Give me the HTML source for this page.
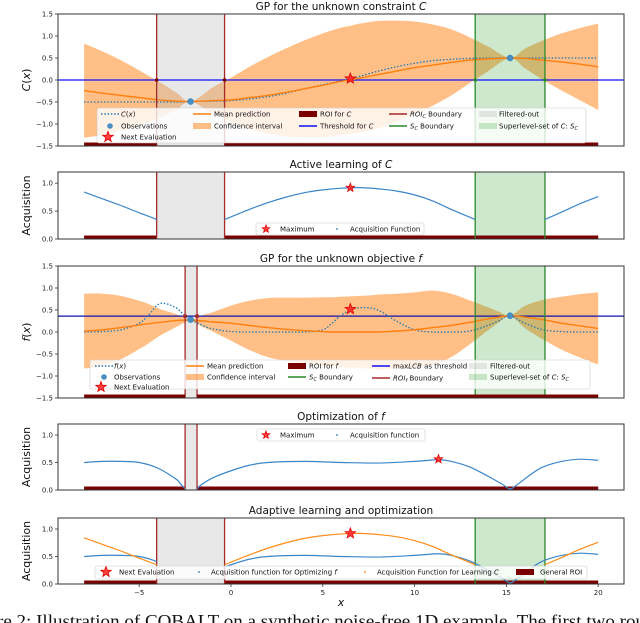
<!DOCTYPE html>
<html><head><meta charset="utf-8">
<style>
html,body{margin:0;padding:0;background:#fff;}
svg{display:block;font-family:"DejaVu Sans","Liberation Sans",sans-serif;}
</style></head>
<body>
<svg id="fig" width="640" height="623" viewBox="0 0 640 623" xmlns="http://www.w3.org/2000/svg"></svg>
<script>
// ---------- DATA ----------
const xDomain = [-8, 20];
const roiC = [-4.05, -0.35];
const scC = [13.3, 17.1];
const roiF = [-2.5, -1.85];
const obsX = [-2.2, 15.2];
const nextEvalX = 6.5;

// Panel 1: constraint C
const cX     = [-8,-7,-6,-5,-4,-3,-2.2,-1,0,1,2,3,4,5,6,6.5,7,8,9,10,11,12,13,14,15.2,16,17,18,19,20];
const cTrue  = [-0.5,-0.5,-0.5,-0.5,-0.5,-0.5,-0.49,-0.48,-0.47,-0.43,-0.38,-0.3,-0.2,-0.11,-0.02,0.03,0.08,0.2,0.3,0.38,0.44,0.47,0.49,0.5,0.5,0.5,0.5,0.5,0.5,0.5];
const cMean  = [-0.24,-0.3,-0.35,-0.4,-0.45,-0.48,-0.49,-0.47,-0.45,-0.4,-0.35,-0.28,-0.2,-0.12,-0.03,0.0,0.04,0.12,0.2,0.28,0.34,0.4,0.45,0.48,0.5,0.49,0.45,0.41,0.36,0.3];
const cSigma = [1.07,0.95,0.8,0.62,0.43,0.2,0.0,0.3,0.5,0.7,0.87,1.0,1.1,1.18,1.22,1.23,1.24,1.22,1.15,1.05,0.92,0.75,0.52,0.28,0.0,0.22,0.45,0.65,0.82,0.98];
const cThreshold = 0.0;
const obsC = [-0.49, 0.5];
const nextEvalC = 0.03;

// Panel 2: acquisition for learning C (segments split by null)
const aCX = [-8,-7,-6,-5,-4.05,null,-0.35,1,2,3,4,5,6,7,8,9,10,11,12,13.3,null,17.1,18,19,20];
const aCY = [0.84,0.72,0.6,0.47,0.35,null,0.35,0.53,0.65,0.75,0.83,0.88,0.91,0.92,0.9,0.86,0.79,0.68,0.53,0.35,null,0.35,0.48,0.63,0.76];
const maxC = 0.92;

// Panel 3: objective f
const fX     = [-8,-7,-6,-5,-4.5,-3.85,-3,-2.5,-2.2,-1.5,-1,0,1,2,3,4,5,5.5,6,6.5,7,7.5,8,8.5,9,10,11,12,13,14,14.6,15.2,16,17,18,19,20];
const fTrue  = [0,0.01,0.05,0.2,0.38,0.65,0.55,0.36,0.28,0.14,0.07,0.01,0,0,0,0,0.05,0.2,0.38,0.5,0.55,0.55,0.5,0.38,0.25,0.05,0,0,0.02,0.15,0.26,0.37,0.2,0.05,0.01,0,0];
const fMean  = [0.02,0.05,0.1,0.16,0.19,0.22,0.26,0.27,0.27,0.25,0.23,0.2,0.15,0.1,0.06,0.03,0.01,0.0,0.0,0.0,0.0,0.0,0.0,0.01,0.02,0.05,0.1,0.15,0.22,0.3,0.34,0.37,0.34,0.28,0.2,0.14,0.08];
const fSigma = [0.85,0.82,0.72,0.55,0.45,0.3,0.15,0.05,0.0,0.14,0.22,0.4,0.56,0.67,0.72,0.75,0.78,0.79,0.8,0.81,0.82,0.83,0.85,0.85,0.85,0.85,0.84,0.72,0.5,0.26,0.12,0.0,0.25,0.45,0.6,0.72,0.82];
const fThreshold = 0.36;
const obsF = [0.28, 0.37];
const nextEvalF = 0.52;

// Panel 4: acquisition for optimizing f
const aFX = [-8,-7,-6,-5,-4,-3,-2.75,-2.5,null,-1.85,-1.6,-1,0,1,2,4,6,8,10,11.3,12,13,14,14.8,15.2,15.6,16.4,17,18,19,20];
const aFY = [0.5,0.52,0.52,0.5,0.4,0.2,0.11,0.02,null,0.02,0.1,0.22,0.35,0.45,0.5,0.52,0.5,0.49,0.52,0.55,0.52,0.42,0.25,0.1,0.02,0.1,0.3,0.42,0.52,0.56,0.54];
const maxFX = 11.3, maxFY = 0.56;

// Ticks
const xTicks = [-5,0,5,10,15,20];
const yTicksGP = [-1.5,-1.0,-0.5,0.0,0.5,1.0,1.5];
const yTicksAcq = [0.0,0.5,1.0];

// ---------- DRAWING ----------
const NS = "http://www.w3.org/2000/svg";
const svg = document.getElementById('fig');
const L = 58, R = 624;
function X(v){ return 231 + 18.36*v; }
function el(tag, attrs, parent){
  const e = document.createElementNS(NS, tag);
  for (const k in attrs) e.setAttribute(k, attrs[k]);
  (parent||svg).appendChild(e);
  return e;
}
function fmt(v){ return (v<0?'\u2212':'') + Math.abs(v).toFixed(1); }
function smooth(pts){
  if (pts.length<2) return '';
  let d = 'M'+pts[0][0].toFixed(2)+','+pts[0][1].toFixed(2);
  for (let i=0;i<pts.length-1;i++){
    const p0=pts[Math.max(0,i-1)], p1=pts[i], p2=pts[i+1], p3=pts[Math.min(pts.length-1,i+2)];
    const c1x=p1[0]+(p2[0]-p0[0])/6, c1y=p1[1]+(p2[1]-p0[1])/6;
    const c2x=p2[0]-(p3[0]-p1[0])/6, c2y=p2[1]-(p3[1]-p1[1])/6;
    d+=' C'+c1x.toFixed(2)+','+c1y.toFixed(2)+' '+c2x.toFixed(2)+','+c2y.toFixed(2)+' '+p2[0].toFixed(2)+','+p2[1].toFixed(2);
  }
  return d;
}
function segments(xs, ys){
  const out=[]; let cur=[];
  for (let i=0;i<xs.length;i++){
    if (xs[i]===null){ if(cur.length) out.push(cur); cur=[]; }
    else cur.push([xs[i], ys[i]]);
  }
  if (cur.length) out.push(cur);
  return out;
}
function star(g, cx, cy, r, name){
  let pts=[];
  for (let i=0;i<10;i++){
    const a=-Math.PI/2+i*Math.PI/5, rr=i%2?r*0.42:r;
    pts.push((cx+rr*Math.cos(a)).toFixed(2)+','+(cy+rr*Math.sin(a)).toFixed(2));
  }
  const s = el('polygon',{points:pts.join(' '),fill:'#ff2020','fill-opacity':'0.85',stroke:'#e00000','stroke-width':'0.8'},g);
  
  
  return s;
}
function panel(cfg){
  const g = el('g',{});
  
  
  const Y = v => cfg.bottom - (v-cfg.ymin)/(cfg.ymax-cfg.ymin)*(cfg.bottom-cfg.top);
  cfg.Y = Y;
  const clipId = 'clip-'+cfg.name;
  const cp = el('clipPath',{id:clipId},g);
  el('rect',{x:L,y:cfg.top,width:R-L,height:cfg.bottom-cfg.top},cp);
  const inner = el('g',{'clip-path':'url(#'+clipId+')'},g);
  const t = el('text',{x:(L+R)/2,y:cfg.top-4,'text-anchor':'middle','font-size':'10.5',fill:'#111'},g);
  
  
  t.innerHTML = cfg.title;
  cfg.g=g; cfg.inner=inner;
  return cfg;
}
function finish(cfg, yticks, ylabel, showX){
  const g=cfg.g, Y=cfg.Y;
  const sp = el('rect',{x:L,y:cfg.top,width:R-L,height:cfg.bottom-cfg.top,fill:'none',stroke:'#333','stroke-width':'1'},g);
  
  
  yticks.forEach(v=>{
    el('line',{x1:L-3,x2:L,y1:Y(v),y2:Y(v),stroke:'#333','stroke-width':'0.8'},g);
    const tl = el('text',{x:L-5,y:Y(v)+2.5,'text-anchor':'end','font-size':'7',fill:'#222'},g);
    
    
    tl.textContent = fmt(v);
  });
  if (showX){
    xTicks.forEach(v=>{
      el('line',{x1:X(v),x2:X(v),y1:cfg.bottom,y2:cfg.bottom+3,stroke:'#333','stroke-width':'0.8'},g);
      const tl = el('text',{x:X(v),y:cfg.bottom+11,'text-anchor':'middle','font-size':'7',fill:'#222'},g);
      
      
      tl.textContent = (v<0?'\u2212':'')+Math.abs(v);
    });
  }
  const cy=(cfg.top+cfg.bottom)/2;
  const yl = el('text',{x:0,y:0,transform:'translate(30,'+cy+') rotate(-90)','text-anchor':'middle','font-size':'11',fill:'#111'},g);
  
  
  yl.innerHTML = ylabel;
}
function bands(cfg, roi, sc){
  const g=cfg.inner;
  const gb = el('rect',{x:X(roi[0]),y:cfg.top,width:X(roi[1])-X(roi[0]),height:cfg.bottom-cfg.top,fill:'#bdbdbd','fill-opacity':'0.35'},g);
  
  
  if (sc){
    const gr = el('rect',{x:X(sc[0]),y:cfg.top,width:X(sc[1])-X(sc[0]),height:cfg.bottom-cfg.top,fill:'#2ca02c','fill-opacity':'0.24'},g);
    
    
  }
}
function bandLines(cfg, roi, sc){
  const g=cfg.inner;
  roi.forEach(v=>{
    const l = el('line',{x1:X(v),x2:X(v),y1:cfg.top,y2:cfg.bottom,stroke:'#a52a2a','stroke-width':'1.3'},g);
    
    
  });
  if (sc) sc.forEach(v=>{
    const l = el('line',{x1:X(v),x2:X(v),y1:cfg.top,y2:cfg.bottom,stroke:'#2a8a2a','stroke-width':'1.3'},g);
    
    
  });
}
function roiBar(cfg, roi){
  const g=cfg.inner;
  [[xDomain[0],roi[0]],[roi[1],xDomain[1]]].forEach(s=>{
    const r = el('rect',{x:X(s[0]),y:cfg.bottom-3.5,width:X(s[1])-X(s[0]),height:3.5,fill:'#7a0000'},g);
    
    
  });
}
function curve(cfg, xs, ys, color, name, dash, width, filter){
  const Y=cfg.Y;
  segments(xs, ys).forEach(seg=>{
    let pts = seg.map(p=>[X(p[0]),Y(p[1])]);
    const p = el('path',{d:smooth(pts),fill:'none',stroke:color,'stroke-width':width||1.3},cfg.inner);
    if (dash) p.setAttribute('stroke-dasharray', dash);
    if (filter) p.setAttribute('clip-path', 'url(#'+filter+')');
    
    
  });
}
function ciBand(cfg, xs, mean, sig, name){
  const Y=cfg.Y;
  const up = xs.map((x,i)=>[X(x),Y(mean[i]+sig[i])]);
  const lo = xs.map((x,i)=>[X(x),Y(mean[i]-sig[i])]).reverse();
  let d = smooth(up) + ' L' + lo[0][0]+','+lo[0][1] + smooth(lo).replace(/^M[^C]*/,'') + ' Z';
  const p = el('path',{d:d,fill:'#ff7f0e','fill-opacity':'0.5',stroke:'none'},cfg.inner);
  
  
}
function obsDots(cfg, xs, ys){
  xs.forEach((x,i)=>{
    const c = el('circle',{cx:X(x),cy:cfg.Y(ys[i]),r:3,fill:'#4a8fc4',stroke:'#1f77b4','stroke-width':'0.5'},cfg.inner);
    
    
  });
}
function hline(cfg, v, color, name){
  const l = el('line',{x1:L,x2:R,y1:cfg.Y(v),y2:cfg.Y(v),stroke:color,'stroke-width':'1.3'},cfg.inner);
  
  
}
function legendBox(x,y,w,h,name){
  const r = el('rect',{x:x,y:y,width:w,height:h,rx:2,fill:'#fff','fill-opacity':'0.8',stroke:'#ccc','stroke-width':'0.6'});
  
  
}
function legText(x,y,html){
  const t = el('text',{x:x,y:y+2.5,'font-size':'7',fill:'#111'});
  
  
  t.innerHTML = html;
}
function legLine(x,y,color,dash,w){
  const l = el('line',{x1:x-9,x2:x+9,y1:y,y2:y,stroke:color,'stroke-width':w||1.5});
  if (dash) l.setAttribute('stroke-dasharray', dash);
  
  
}
function legRect(x,y,color,op){
  const r = el('rect',{x:x-9,y:y-3,width:18,height:6,fill:color,'fill-opacity':op||1});
  
  
}
function legDot(x,y,r,color){
  const c = el('circle',{cx:x,cy:y,r:r,fill:color});
  
  
}

// ---------- PANEL 1 ----------
const p1 = panel({name:'constraint-gp-panel',top:14,bottom:146,ymin:-1.5,ymax:1.5,title:'GP for the unknown constraint <tspan font-style="italic">C</tspan>'});
ciBand(p1, cX, cMean, cSigma, 'confidence-interval-c');
bands(p1, roiC, scC);
hline(p1, cThreshold, '#1010ff', 'threshold-c');
curve(p1, cX, cTrue, '#1f77b4', 'true-c-curve', '1.5,1.8', 1.3);
curve(p1, cX, cMean, '#ff7f0e', 'mean-prediction-c', null, 1.4);
bandLines(p1, roiC, scC);
roiBar(p1, roiC);
obsDots(p1, obsX, obsC);
star(p1.inner, X(nextEvalX), p1.Y(nextEvalC), 5.5, 'next-evaluation-c');
[roiC[0],roiC[1]].forEach(v=>{ const c=el('circle',{cx:X(v),cy:p1.Y(0),r:1.8,fill:'#7a0000'},p1.inner);  });
[scC[0],scC[1]].forEach(v=>{ const c=el('circle',{cx:X(v),cy:p1.Y(0),r:1.8,fill:'#2a8a2a'},p1.inner);  });
finish(p1, yTicksGP, '<tspan font-style="italic">C</tspan>(<tspan font-style="italic">x</tspan>)', false);
legendBox(97,108,489,35,'constraint-legend');
legLine(110,114,'#1f77b4','1.5,1.8'); legText(121,114,'<tspan font-style="italic">C</tspan>(<tspan font-style="italic">x</tspan>)');
legDot(110,126,2.8,'#4a8fc4'); legText(121,126,'Observations');
star(svg,108,137,5.5,'legend-star'); legText(121,137,'Next Evaluation');
legLine(202,114,'#ff7f0e'); legText(214,114,'Mean prediction');
legRect(202,126,'#ff7f0e',0.5); legText(214,126,'Confidence interval');
legRect(308,114,'#7a0000'); legText(320,114,'ROI for <tspan font-style="italic">C</tspan>');
legLine(308,126,'#1010ff'); legText(320,126,'Threshold for <tspan font-style="italic">C</tspan>');
legLine(398,114,'#a52a2a'); legText(410,114,'<tspan font-style="italic">ROI<tspan font-size="5" dy="1.5">C</tspan></tspan><tspan dy="-1.5"> Boundary</tspan>');
legLine(398,126,'#2a8a2a'); legText(410,126,'<tspan font-style="italic">S<tspan font-size="5" dy="1.5">C</tspan></tspan><tspan dy="-1.5"> Boundary</tspan>');
legRect(488,114,'#bdbdbd',0.35); legText(499,114,'Filtered-out');
legRect(488,126,'#2ca02c',0.24); legText(499,126,'Superlevel-set of <tspan font-style="italic">C</tspan>: <tspan font-style="italic">S<tspan font-size="5" dy="1.5">C</tspan></tspan>');

// ---------- PANEL 2 ----------
const p2 = panel({name:'active-learning-panel',top:172,bottom:239,ymin:0,ymax:1.2,title:'Active learning of <tspan font-style="italic">C</tspan>'});
bands(p2, roiC, scC);
roiBar(p2, roiC);
bandLines(p2, roiC, scC);
curve(p2, aCX, aCY, '#3a86c8', 'acquisition-c-curve', null, 1.2);
star(p2.inner, X(nextEvalX), p2.Y(maxC), 4.5, 'maximum-c');
finish(p2, yTicksAcq, 'Acquisition', false);
legendBox(256,223,168,12,'active-learning-legend');
star(svg,266,229,4,'legend-star'); legText(280,229,'Maximum');
legDot(337,229,0.9,'#1f77b4'); legText(350,229,'Acquisition Function');

// ---------- PANEL 3 ----------
const p3 = panel({name:'objective-gp-panel',top:266,bottom:398,ymin:-1.5,ymax:1.5,title:'GP for the unknown objective <tspan font-style="italic">f</tspan>'});
ciBand(p3, fX, fMean, fSigma, 'confidence-interval-f');
bands(p3, roiF, scC);
hline(p3, fThreshold, '#1010aa', 'max-lcb-threshold');
curve(p3, fX, fTrue, '#1f77b4', 'true-f-curve', '1.5,1.8', 1.3);
curve(p3, fX, fMean, '#ff7f0e', 'mean-prediction-f', null, 1.4);
bandLines(p3, roiF, scC);
roiBar(p3, roiF);
obsDots(p3, obsX, obsF);
star(p3.inner, X(nextEvalX), p3.Y(nextEvalF), 5.5, 'next-evaluation-f');
roiF.forEach(v=>{ const c=el('circle',{cx:X(v),cy:p3.Y(fThreshold),r:2,fill:'#a52a2a'},p3.inner);  });
finish(p3, yTicksGP, '<tspan font-style="italic">f</tspan>(<tspan font-style="italic">x</tspan>)', false);
legendBox(90,360,500,29,'objective-legend');
legLine(104,366,'#1f77b4','1.5,1.8'); legText(114,366,'<tspan font-style="italic">f</tspan>(<tspan font-style="italic">x</tspan>)');
legDot(104,377,2.8,'#4a8fc4'); legText(114,377,'Observations');
star(svg,101,387,5.5,'legend-star'); legText(114,387,'Next Evaluation');
legLine(195,366,'#ff7f0e'); legText(207,366,'Mean prediction');
legRect(195,377,'#ff7f0e',0.5); legText(207,377,'Confidence interval');
legRect(297,366,'#7a0000'); legText(309,366,'ROI for <tspan font-style="italic">f</tspan>');
legLine(297,377,'#2a8a2a'); legText(309,377,'<tspan font-style="italic">S<tspan font-size="5" dy="1.5">C</tspan></tspan><tspan dy="-1.5"> Boundary</tspan>');
legLine(381,366,'#1010ff'); legText(393,366,'max<tspan font-style="italic">LCB</tspan> as threshold');
legLine(381,378,'#a52a2a'); legText(393,378,'<tspan font-style="italic">ROI<tspan font-size="5" dy="1.5">f</tspan></tspan><tspan dy="-1.5"> Boundary</tspan>');
legRect(478,366,'#bdbdbd',0.35); legText(490,366,'Filtered-out');
legRect(478,377,'#2ca02c',0.24); legText(490,377,'Superlevel-set of <tspan font-style="italic">C</tspan>: <tspan font-style="italic">S<tspan font-size="5" dy="1.5">C</tspan></tspan>');

// ---------- PANEL 4 ----------
const p4 = panel({name:'optimization-panel',top:424,bottom:490,ymin:0,ymax:1.2,title:'Optimization of <tspan font-style="italic">f</tspan>'});
bands(p4, roiF, null);
roiBar(p4, roiF);
bandLines(p4, roiF, null);
curve(p4, aFX, aFY, '#3a86c8', 'acquisition-f-curve', null, 1.2);
star(p4.inner, X(maxFX), p4.Y(maxFY), 4.5, 'maximum-f');
finish(p4, yTicksAcq, 'Acquisition', false);
legendBox(257,429,168,12,'optimization-legend');
star(svg,266,435,4,'legend-star'); legText(280,435,'Maximum');
legDot(337,435,0.9,'#1f77b4'); legText(350,435,'Acquisition function');

// ---------- PANEL 5 ----------
const p5 = panel({name:'adaptive-panel',top:518,bottom:584,ymin:0,ymax:1.2,title:'Adaptive learning and optimization'});
bands(p5, roiC, scC);
roiBar(p5, roiC);
bandLines(p5, roiC, scC);
const cpB = el('clipPath',{id:'clip-blue5'},p5.g);
el('rect',{x:L,y:0,width:X(roiC[0])-L,height:623},cpB);
el('rect',{x:X(roiC[1]),y:0,width:R-X(roiC[1]),height:623},cpB);
curve(p5, aFX, aFY, '#3a86c8', 'acquisition-f-curve-adaptive', null, 1.2, 'clip-blue5');
curve(p5, aCX, aCY, '#ff8c1a', 'acquisition-c-curve-adaptive', null, 1.2);
star(p5.inner, X(nextEvalX), p5.Y(maxC), 5.5, 'next-evaluation-adaptive');
finish(p5, yTicksAcq, 'Acquisition', true);
const xl = el('text',{x:341,y:606,'text-anchor':'middle','font-size':'11','font-style':'italic',fill:'#111'});


xl.textContent='x';
legendBox(95,566,492,13,'adaptive-legend');
star(svg,106,572,5.5,'legend-star'); legText(119,572,'Next Evaluation');
legDot(199,572,0.9,'#1f77b4'); legText(211,572,'Acquisition function for Optimizing <tspan font-style="italic">f</tspan>');
legDot(365,572,0.9,'#ff7f0e'); legText(377,572,'Acquisition Function for Learning <tspan font-style="italic">C</tspan>');
legRect(525,572,'#7a0000'); legText(540,572,'General ROI');

// caption
const cap = el('text',{x:-3,y:627,'font-size':'17.5','font-family':'"Liberation Serif",serif',fill:'#111',textLength:'648',lengthAdjust:'spacingAndGlyphs'});


cap.textContent='re 2: Illustration of COBALT on a synthetic noise-free 1D example. The first two rou';
</script>
</body></html>
